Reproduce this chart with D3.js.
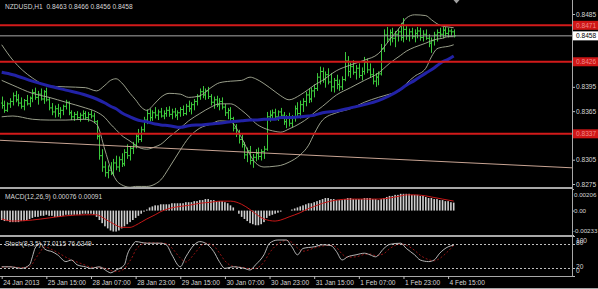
<!DOCTYPE html>
<html><head><meta charset="utf-8">
<script src="https://cdn.jsdelivr.net/npm/d3@7"></script>
<style>
body{margin:0;background:#000;overflow:hidden}
svg{display:block}
text{font-family:"Liberation Sans",Arial,sans-serif}
</style></head>
<body><svg id="c" width="598" height="289"></svg>
<script>
// ---------- DATA ----------
const symbolTitle = "NZDUSD,H1  0.8463 0.8466 0.8456 0.8458";
const macdTitle = "MACD(12,26,9) 0.00076 0.00091";
const stochTitle = "Stoch(8,3,5) 77.0115 76.6349";
const timeLabels = ["24 Jan 2013","25 Jan 15:00","28 Jan 07:00","28 Jan 23:00","29 Jan 15:00","30 Jan 07:00","30 Jan 23:00","31 Jan 15:00","1 Feb 07:00","1 Feb 23:00","4 Feb 15:00"];
const timeLabelBars = [0,16,32,48,64,80,96,112,128,144,160];
const priceTicks = [0.8485,0.8395,0.8365,0.8305,0.8275];
const levels = [0.8471,0.8426,0.8337];
const lastPrice = 0.8458;
const trendBars = [-0.6,204.4];
const trendPrices = [0.8329,0.8295];
const macdTicks = [0.00206,0,-0.00233];
const macdTickLabels = ["0.00206","0.00","-0.00233"];
const stochTicks = [100,80,20,0];
const stochLevels = [80,20];

const opens = [.8375,.8372,.8366,.8374,.8377,.8384,.8379,.8375,.8371,.8378,
.8374,.8381,.8388,.8382,.8386,.8380,.8389,.8379,.8369,.8364,
.8368,.8362,.8366,.8371,.8376,.8363,.8358,.8361,.8357,.8360,
.8362,.8357,.8361,.8359,.8352,.8334,.8310,.8296,.8289,.8292,
.8288,.8301,.8296,.8305,.8300,.8314,.8310,.8319,.8323,.8334,
.8330,.8342,.8354,.8362,.8357,.8363,.8360,.8364,.8359,.8362,
.8366,.8361,.8364,.8360,.8363,.8367,.8362,.8371,.8368,.8373,
.8377,.8383,.8389,.8385,.8390,.8383,.8376,.8379,.8373,.8377,
.8370,.8363,.8366,.8356,.8344,.8337,.8330,.8324,.8311,.8316,
.8304,.8308,.8313,.8309,.8315,.8318,.8358,.8360,.8363,.8358,
.8364,.8360,.8352,.8356,.8350,.8357,.8368,.8362,.8373,.8377,
.8385,.8380,.8390,.8393,.8407,.8414,.8404,.8410,.8401,.8395,
.8403,.8398,.8395,.8404,.8427,.8414,.8420,.8413,.8418,.8409,
.8414,.8425,.8416,.8410,.8402,.8407,.8411,.8442,.8459,.8454,
.8462,.8455,.8460,.8463,.8456,.8466,.8458,.8463,.8457,.8461,
.8464,.8456,.8460,.8455,.8449,.8452,.8459,.8462,.8460,.8465,
.8461,.8464,.8463];
const highs = [.8383,.8378,.8376,.8381,.8388,.8390,.8386,.8382,.8380,.8385,
.8383,.8392,.8394,.8390,.8393,.8391,.8394,.8382,.8375,.8372,
.8374,.8370,.8373,.8379,.8377,.8366,.8364,.8365,.8363,.8366,
.8365,.8364,.8366,.8363,.8354,.8338,.8318,.8303,.8298,.8302,
.8306,.8310,.8309,.8313,.8318,.8324,.8322,.8327,.8338,.8343,
.8346,.8358,.8367,.8368,.8366,.8370,.8367,.8369,.8366,.8370,
.8371,.8368,.8369,.8366,.8370,.8372,.8374,.8378,.8376,.8380,
.8386,.8393,.8396,.8393,.8395,.8386,.8383,.8384,.8381,.8382,
.8374,.8369,.8370,.8358,.8349,.8342,.8336,.8327,.8320,.8322,
.8312,.8318,.8320,.8318,.8322,.8364,.8366,.8367,.8368,.8366,
.8369,.8364,.8360,.8363,.8360,.8372,.8376,.8378,.8381,.8389,
.8393,.8394,.8398,.8412,.8420,.8419,.8414,.8418,.8412,.8406,
.8410,.8404,.8408,.8438,.8433,.8425,.8428,.8422,.8424,.8419,
.8432,.8430,.8424,.8418,.8412,.8414,.8448,.8466,.8469,.8466,
.8468,.8464,.8467,.8474,.8480,.8470,.8467,.8468,.8466,.8469,
.8468,.8465,.8466,.8460,.8456,.8463,.8466,.8468,.8469,.8469,
.8468,.8467,.8466];
const lows = [.8368,.8363,.8364,.8369,.8372,.8376,.8371,.8368,.8366,.8372,
.8370,.8376,.8379,.8373,.8378,.8374,.8377,.8366,.8360,.8357,
.8358,.8356,.8360,.8367,.8360,.8354,.8353,.8355,.8352,.8355,
.8354,.8352,.8356,.8350,.8330,.8305,.8290,.8284,.8282,.8286,
.8285,.8292,.8290,.8296,.8297,.8306,.8304,.8312,.8319,.8326,
.8327,.8339,.8349,.8352,.8353,.8356,.8354,.8357,.8355,.8358,
.8358,.8355,.8357,.8354,.8358,.8359,.8360,.8364,.8361,.8366,
.8372,.8379,.8381,.8379,.8380,.8372,.8368,.8370,.8366,.8367,
.8359,.8355,.8353,.8340,.8333,.8325,.8320,.8306,.8302,.8299,
.8295,.8303,.8305,.8304,.8306,.8316,.8352,.8354,.8355,.8353,
.8356,.8348,.8344,.8346,.8345,.8352,.8358,.8356,.8364,.8371,
.8375,.8376,.8382,.8390,.8398,.8400,.8394,.8398,.8389,.8388,
.8392,.8390,.8391,.8402,.8408,.8406,.8410,.8404,.8406,.8403,
.8410,.8412,.8406,.8398,.8395,.8397,.8409,.8438,.8449,.8446,
.8450,.8444,.8451,.8452,.8450,.8453,.8451,.8454,.8450,.8455,
.8452,.8451,.8453,.8444,.8437,.8446,.8451,.8456,.8455,.8457,
.8456,.8458,.8456];
const closes = [.8372,.8366,.8374,.8377,.8384,.8379,.8375,.8371,.8378,.8374,
.8381,.8388,.8382,.8386,.8380,.8389,.8379,.8369,.8364,.8368,
.8362,.8366,.8371,.8376,.8363,.8358,.8361,.8357,.8360,.8362,
.8357,.8361,.8359,.8352,.8334,.8310,.8296,.8289,.8292,.8288,
.8301,.8296,.8305,.8300,.8314,.8310,.8319,.8323,.8334,.8330,
.8342,.8354,.8362,.8357,.8363,.8360,.8364,.8359,.8362,.8366,
.8361,.8364,.8360,.8363,.8367,.8362,.8371,.8368,.8373,.8377,
.8383,.8389,.8385,.8390,.8383,.8376,.8379,.8373,.8377,.8370,
.8363,.8366,.8356,.8344,.8337,.8330,.8324,.8311,.8316,.8304,
.8308,.8313,.8309,.8315,.8318,.8358,.8360,.8363,.8358,.8364,
.8360,.8352,.8356,.8350,.8357,.8368,.8362,.8373,.8377,.8385,
.8380,.8390,.8393,.8407,.8414,.8404,.8410,.8401,.8395,.8403,
.8398,.8395,.8404,.8427,.8414,.8420,.8413,.8418,.8409,.8414,
.8425,.8416,.8410,.8402,.8407,.8411,.8442,.8459,.8454,.8462,
.8455,.8460,.8463,.8456,.8466,.8458,.8463,.8457,.8461,.8464,
.8456,.8460,.8455,.8449,.8452,.8459,.8462,.8460,.8465,.8461,
.8464,.8463,.8458];

const bandIdx = [0,4,11,17,23,30,34,37,39,41,43,46,48,50,52,55,57,60,64,67,71,75,78,82,86,89,91,94,98,100,103,107,110,112,115,120,125,130,135,139,143,145,148,152,154,156,158,160,162];
const bbUpper = [.8447,.8428,.8406,.8396,.8395,.8394,.8390,.8397,.8403,.8405,.8400,.8387,.8379,.8370,.8366,.8375,.8382,.8387,.8386,.8382,.8384,.8394,.8400,.8402,.8403,.8407,.8405,.8399,.8389,.8384,.8379,.8385,.8392,.8397,.8403,.8415,.8422,.8428,.8436,.8453,.8470,.8480,.8484,.8483,.8478,.8473,.8470,.8469,.8468];
const bbMiddle = [.8403,.8397,.8387,.8382,.8376,.8369,.8364,.8357,.8349,.8342,.8335,.8328,.8323,.8319,.8318,.8321,.8324,.8333,.8344,.8353,.8362,.8370,.8374,.8374,.8366,.8357,.8350,.8344,.8340,.8339,.8343,.8350,.8357,.8363,.8371,.8385,.8394,.8403,.8412,.8424,.8434,.8439,.8444,.8449,.8452,.8454,.8455,.8457,.8457];
const bbLower = [.8358,.8359,.8355,.8354,.8354,.8355,.8349,.8317,.8295,.8280,.8274,.8271,.8272,.8272,.8272,.8275,.8280,.8295,.8317,.8332,.8344,.8349,.8353,.8352,.8332,.8311,.8301,.8296,.8297,.8298,.8302,.8311,.8323,.8337,.8354,.8363,.8368,.8376,.8382,.8386,.8391,.8399,.8408,.8418,.8432,.8442,.8444,.8445,.8447];
const maSlow = [.8413,.8410,.8402,.8396,.8391,.8385,.8380,.8375,.8371,.8368,.8363,.8358,.8355,.8353,.8352,.8349,.8348,.8347,.8345,.8347,.8348,.8349,.8350,.8352,.8353,.8354,.8354,.8355,.8355,.8357,.8357,.8358,.8359,.8360,.8363,.8365,.8369,.8373,.8378,.8384,.8392,.8397,.8403,.8412,.8416,.8421,.8426,.8429,.8433];

const macdHist = [-0.0009,-0.0010,-0.0010,-0.0011,-0.0011,-0.0011,-0.0011,-0.0010,-0.0010,-0.0009,
-0.0008,-0.0007,-0.0006,-0.0006,-0.0005,-0.0005,-0.0004,
-0.0005,-0.0005,-0.0006,-0.0006,-0.0006,-0.0005,-0.0004,-0.0004,-0.0004,-0.0004,-0.0004,-0.0004,-0.0003,-0.0003,-0.0003,-0.0003,-0.0004,
-0.0006,-0.0009,-0.0012,-0.0015,-0.0017,-0.0019,-0.0020,-0.0020,-0.0019,
-0.0017,-0.0015,-0.0013,-0.0011,-0.0009,-0.0007,-0.0005,-0.0003,-0.0001,0.0001,
0.0003,0.0004,0.0005,0.0005,0.0006,0.0006,0.0006,0.0006,0.0007,0.0007,0.0007,0.0007,0.0007,0.0008,0.0008,0.0008,0.0009,0.0009,0.0010,
0.0010,0.0011,0.0011,0.0010,0.0010,0.0009,0.0009,0.0009,0.0008,0.0007,0.0005,0.0003,
0.0000,-0.0003,-0.0006,-0.0008,-0.0010,-0.0012,-0.0013,-0.0014,-0.0014,-0.0013,-0.0011,
-0.0007,-0.0005,-0.0004,-0.0003,-0.0002,-0.0001,
0.0000,0.0000,0.0000,0.0001,0.0002,0.0003,0.0004,0.0005,0.0006,0.0007,0.0007,0.0008,
0.0009,0.0010,0.0011,0.0012,0.0012,0.0011,0.0011,0.0010,0.0010,0.0010,
0.0011,0.0012,0.0012,0.0011,0.0011,0.0011,0.0011,0.0012,0.0012,0.0012,0.0011,0.0011,0.0010,
0.0011,0.0012,0.0013,0.0014,0.0014,0.0015,0.0015,
0.0016,0.0016,0.0016,0.0016,0.0015,0.0015,0.0015,0.0014,0.0014,0.0013,
0.0012,0.0012,0.0011,0.0011,0.0010,0.0010,0.0009,0.0009,0.0008,0.00076];
const macdSignal = [-0.0008,-0.0010,-0.0009,-0.0007,-0.0005,-0.0004,-0.0004,-0.0008,-0.0011,-0.0014,
-0.0016,-0.0016,-0.0014,-0.0011,-0.0008,-0.0004,-0.0001,0.0002,0.0004,0.0005,
0.0007,0.0008,0.0009,0.0009,0.0006,0.0001,-0.0003,-0.0008,-0.0010,-0.0009,
-0.0006,-0.0002,0.0002,0.0004,0.0007,0.0010,0.0011,0.0011,0.0011,0.0012,
0.0014,0.0015,0.0015,0.0014,0.0013,0.0012,0.0011,0.0010,0.00091];

const stochIdx = [0,3,7,10,11,12,14,15,16,18,20,23,25,27,30,32,35,38,39,41,44,45,47,48,52,57,59,61,64,66,69,71,73,76,78,80,83,87,89,91,94,96,99,102,104,106,108,112,115,118,120,122,124,127,130,132,134,137,139,143,145,148,150,153,155,157,160,162];
const stochMain = [23,23,19,28,48,70,82,70,65,61,53,36,40,28,23,19,23,11,8,15,28,53,78,86,82,82,78,53,23,48,78,86,82,61,36,19,23,19,15,28,53,82,90,90,73,53,69,73,78,76,61,40,48,53,57,53,48,69,79,82,69,53,40,36,40,57,73,77];
const stochSignal = [22,23,21,23,30,42,62,72,72,66,59,47,40,35,27,22,21,17,14,11,18,28,50,65,83,82,81,70,45,35,55,72,82,75,58,38,24,21,18,19,35,58,80,89,84,70,62,70,75,77,71,55,47,48,54,55,51,56,68,80,77,64,52,41,38,44,62,76.6];

// ---------- LAYOUT ----------
const PR = 572;
const svg = d3.select("#c");
const x = d3.scaleLinear().domain([0,162]).range([1.7,453.7]);
const yP = d3.scaleLinear().domain([0.8485,0.8275]).range([14,184]);
const yM = d3.scaleLinear().domain([0.00206,-0.00233]).range([189,235]);
const yS = d3.scaleLinear().domain([100,0]).range([236,276]);
const FS = 6.6, TXT = "#d6d6d6";

svg.append("rect").attr("width",598).attr("height",289).attr("fill","#000");
const defs = svg.append("defs");
defs.append("clipPath").attr("id","cm").append("rect").attr("x",0).attr("y",0).attr("width",PR).attr("height",187);
defs.append("clipPath").attr("id","cmacd").append("rect").attr("x",0).attr("y",189).attr("width",PR).attr("height",46);
defs.append("clipPath").attr("id","cst").append("rect").attr("x",0).attr("y",237).attr("width",PR).attr("height",39);

// ----- main panel -----
const main = svg.append("g").attr("clip-path","url(#cm)");
main.append("g").attr("fill","none").attr("stroke","#3cc83c").attr("stroke-width",1)
  .selectAll("path").data(closes).join("path")
  .attr("d",(c,i)=>{const xx=Math.round(x(i))+0.5;
     return `M${xx},${yP(highs[i])}V${yP(lows[i])}M${xx-1.5},${yP(opens[i])}H${xx}M${xx},${yP(c)}H${xx+1.5}`;});

const bandLine = d3.line().x((d,k)=>x(bandIdx[k])).y(d=>yP(d)).curve(d3.curveMonotoneX);
[bbUpper,bbMiddle,bbLower].forEach(arr=>{
  main.append("path").attr("d",bandLine(arr)).attr("fill","none").attr("stroke","#aab09a").attr("stroke-width",0.9);
});
main.append("path").attr("d",bandLine(maSlow)).attr("fill","none").attr("stroke","#2222a6").attr("stroke-width",3);

// trend line
main.append("path").attr("d",d3.line().x((d,k)=>x(trendBars[k])).y(d=>yP(d))(trendPrices))
  .attr("fill","none").attr("stroke","#c8a493").attr("stroke-width",1);
// current price line
main.append("line").attr("x1",0).attr("x2",PR).attr("y1",yP(lastPrice)).attr("y2",yP(lastPrice))
  .attr("stroke","#a8a8a8").attr("stroke-width",1);
// horizontal levels
main.selectAll("line.lvl").data(levels).join("line").attr("class","lvl")
  .attr("x1",0).attr("x2",PR).attr("y1",d=>yP(d)).attr("y2",d=>yP(d))
  .attr("stroke","#d21a1a").attr("stroke-width",2);
// shift marker
svg.append("path").attr("d",`M${x(163)-3},0H${x(163)+3}L${x(163)},3.5Z`).attr("fill","#a0a0a0");

// price axis
const pAxis = svg.append("g").attr("transform",`translate(${PR},0)`)
  .call(d3.axisRight(yP).tickValues(priceTicks).tickSize(3).tickFormat(d3.format(".4f")));
pAxis.select(".domain").remove();
pAxis.selectAll("line").attr("stroke","#bbb");
pAxis.selectAll("text").attr("fill",TXT).attr("font-size",FS).attr("x",4);
// level labels
const lv = svg.append("g");
levels.forEach(v=>{
  lv.append("rect").attr("x",PR+1).attr("y",yP(v)-4.5).attr("width",26).attr("height",9).attr("fill","#cf1616");
  lv.append("text").attr("x",PR+4).attr("y",yP(v)+2.4).attr("font-size",FS).attr("fill","#f08a8a").text(d3.format(".4f")(v));
});
lv.append("rect").attr("x",PR+1).attr("y",yP(lastPrice)-4.5).attr("width",26).attr("height",9).attr("fill","#fff");
lv.append("text").attr("x",PR+4).attr("y",yP(lastPrice)+2.4).attr("font-size",FS).attr("fill","#000").text(d3.format(".4f")(lastPrice));

// ----- MACD -----
const mg = svg.append("g").attr("clip-path","url(#cmacd)");
mg.append("g").selectAll("rect").data(macdHist).join("rect")
  .attr("x",(d,i)=>x(i)-0.8).attr("width",1.6)
  .attr("y",d=>Math.min(yM(d),yM(0))).attr("height",d=>Math.abs(yM(d)-yM(0)))
  .attr("fill","#cfcfcf");
mg.append("path").attr("d",d3.line().x((d,k)=>x(bandIdx[k])).y(d=>yM(d)).curve(d3.curveMonotoneX)(macdSignal))
  .attr("fill","none").attr("stroke","#c81818").attr("stroke-width",1);
const macdShift = [6,0,-4];
const mAxis = svg.append("g").attr("transform",`translate(${PR},0)`)
  .call(d3.axisRight(yM).tickValues(macdTicks).tickSize(2).tickFormat((d,i)=>macdTickLabels[i]));
mAxis.select(".domain").remove();
mAxis.selectAll("line").attr("stroke","#bbb");
mAxis.selectAll("text").attr("fill",TXT).attr("font-size",6.2).attr("x",(d,i)=>i===2?1:2).attr("y",(d,i)=>macdShift[i]);

// ----- Stochastic -----
const sg = svg.append("g").attr("clip-path","url(#cst)");
sg.selectAll("line").data(stochLevels).join("line")
  .attr("x1",0).attr("x2",PR).attr("y1",d=>Math.round(yS(d))+0.5).attr("y2",d=>Math.round(yS(d))+0.5)
  .attr("stroke","#c0c0c0").attr("stroke-width",1).attr("stroke-dasharray","2,2");
const sLine = d3.line().x((d,k)=>x(stochIdx[k])).y(d=>yS(d)).curve(d3.curveMonotoneX);
sg.append("path").attr("d",sLine(stochSignal)).attr("fill","none").attr("stroke","#b81818").attr("stroke-width",0.8).attr("stroke-dasharray","2,2");
sg.append("path").attr("d",sLine(stochMain)).attr("fill","none").attr("stroke","#c8c8c8").attr("stroke-width",0.9);
const stochShift = [4,-1.5,-2,-6];
const sAxis = svg.append("g").attr("transform",`translate(${PR},0)`)
  .call(d3.axisRight(yS).tickValues(stochTicks).tickSize(3).tickFormat(d3.format("d")));
sAxis.select(".domain").remove();
sAxis.selectAll("line").attr("stroke","#bbb");
sAxis.selectAll("text").attr("fill",TXT).attr("font-size",FS).attr("x",4).attr("y",(d,i)=>stochShift[i]);

// ----- frames -----
const fr = svg.append("g").attr("stroke","#a8a8a8").attr("fill","none");
fr.append("line").attr("x1",PR+0.5).attr("x2",PR+0.5).attr("y1",0).attr("y2",277);
fr.append("line").attr("x1",0).attr("x2",PR+1).attr("y1",188).attr("y2",188).attr("stroke-width",2);
fr.append("line").attr("x1",0).attr("x2",PR+1).attr("y1",236).attr("y2",236).attr("stroke-width",2);
fr.append("line").attr("x1",0).attr("x2",PR+1).attr("y1",276.5).attr("y2",276.5);
fr.append("line").attr("x1",0).attr("x2",598).attr("y1",288.5).attr("y2",288.5);

// ----- time axis -----
const tAxis = svg.append("g").attr("transform","translate(0,276)")
  .call(d3.axisBottom(x).tickValues(timeLabelBars).tickSize(3).tickFormat((d,i)=>timeLabels[i]));
tAxis.select(".domain").remove();
tAxis.selectAll("line").attr("stroke","#bbb");
tAxis.selectAll("text").attr("fill",TXT).attr("font-size",FS).attr("text-anchor","start").attr("x",1).attr("y",4.5);

// ----- titles -----
svg.append("text").attr("x",5).attr("y",9).attr("font-size",FS).attr("fill",TXT).style("white-space","pre").text(symbolTitle);
svg.append("text").attr("x",5).attr("y",199).attr("font-size",FS).attr("fill",TXT).text(macdTitle);
svg.append("text").attr("x",5).attr("y",246).attr("font-size",FS).attr("fill",TXT).text(stochTitle);
</script></body></html>
